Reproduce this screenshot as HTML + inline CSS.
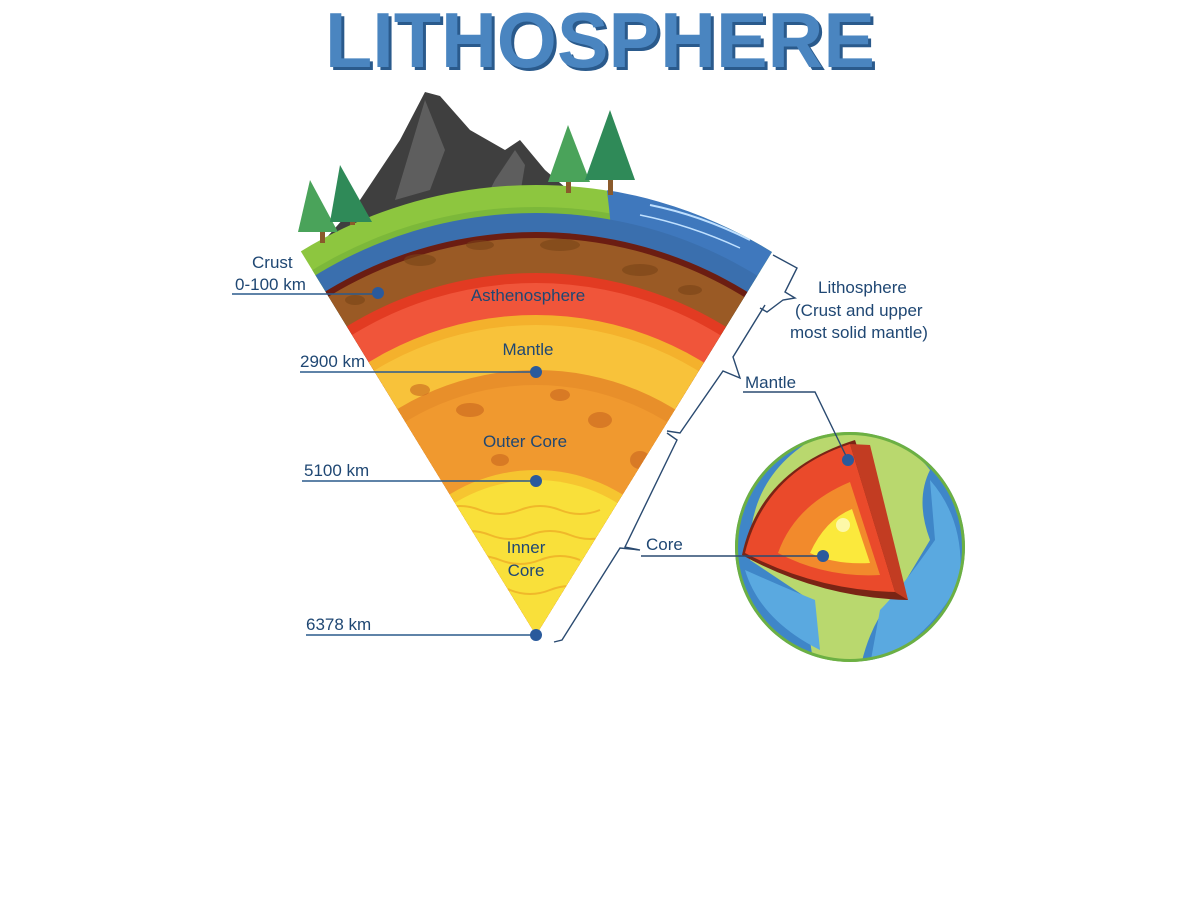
<!DOCTYPE html>
<html><head><meta charset="utf-8"><style>
html,body{margin:0;padding:0;background:#fff;width:1200px;height:907px;overflow:hidden;}
svg{display:block;}
.l{font-family:"Liberation Sans",sans-serif;font-size:17px;fill:#1f4773;}
</style></head><body>
<svg width="1200" height="907" viewBox="0 0 1200 907" xmlns="http://www.w3.org/2000/svg">
<defs>
<clipPath id="sec"><path d="M536,635 L300,250 A450,450 0 0 1 772,252 Z"/></clipPath>
<clipPath id="glob"><circle cx="850" cy="547" r="115"/></clipPath>
</defs>
<!-- title -->
<text x="603" y="70" text-anchor="middle" font-family="Liberation Sans,sans-serif" font-weight="bold" font-size="78" textLength="550" lengthAdjust="spacingAndGlyphs" fill="#2a5a8c">LITHOSPHERE</text>
<text x="600" y="67" text-anchor="middle" font-family="Liberation Sans,sans-serif" font-weight="bold" font-size="78" textLength="550" lengthAdjust="spacingAndGlyphs" fill="#4a85c0">LITHOSPHERE</text>

<!-- mountain -->
<polygon points="320,245 360,200 400,140 425,92 440,96 470,130 505,150 520,140 545,170 580,200 600,215 320,245" fill="#3f3f3f"/>
<polygon points="425,100 410,150 395,200 430,190 445,150" fill="#5e5e5e"/>
<polygon points="515,150 495,180 485,200 520,195 525,165" fill="#5e5e5e"/>

<!-- wedge -->
<g clip-path="url(#sec)">
<circle cx="536" cy="635" r="450" fill="#8dc63f"/>
<circle cx="536" cy="635" r="428" fill="#7cb83a"/>
<path d="M600,150 L800,150 L800,300 L615,300 Q612,205 600,150Z" fill="#3f78bd"/>
<path d="M650,205 Q700,215 750,240" stroke="#bfe0ff" stroke-width="2" fill="none"/>
<path d="M640,215 Q690,225 740,248" stroke="#bfe0ff" stroke-width="1.5" fill="none"/>
<circle cx="536" cy="635" r="422" fill="#3a6fae"/>
<circle cx="536" cy="635" r="403" fill="#6b1d12"/>
<circle cx="536" cy="635" r="397" fill="#9a5a25"/>
<circle cx="536" cy="635" r="362" fill="#e23b22"/>
<circle cx="536" cy="635" r="352" fill="#f0553a"/>
<circle cx="536" cy="635" r="320" fill="#f4b12c"/>
<circle cx="536" cy="635" r="310" fill="#f8c23a"/>
<circle cx="536" cy="635" r="265" fill="#e88f2a"/>
<circle cx="536" cy="635" r="250" fill="#f0992f"/>
<circle cx="536" cy="635" r="165" fill="#f6c530"/>
<circle cx="536" cy="635" r="155" fill="#f9e03a"/>
<g fill="#7a4418" opacity="0.6">
<ellipse cx="420" cy="260" rx="16" ry="6"/><ellipse cx="480" cy="245" rx="14" ry="5"/><ellipse cx="560" cy="245" rx="20" ry="6"/><ellipse cx="640" cy="270" rx="18" ry="6"/><ellipse cx="690" cy="290" rx="12" ry="5"/><ellipse cx="355" cy="300" rx="10" ry="5"/></g>
<g fill="#c9661f" opacity="0.6">
<ellipse cx="470" cy="410" rx="14" ry="7"/><ellipse cx="600" cy="420" rx="12" ry="8"/><ellipse cx="420" cy="390" rx="10" ry="6"/><ellipse cx="640" cy="460" rx="10" ry="9"/><ellipse cx="560" cy="395" rx="10" ry="6"/><ellipse cx="500" cy="460" rx="9" ry="6"/></g>
<g fill="none" stroke="#f0b82a" stroke-width="2">
<path d="M440,510 q20,-8 40,0 t40,0 t40,0 t40,0"/><path d="M450,535 q20,-8 40,0 t40,0 t40,0 t40,0"/><path d="M460,560 q20,-8 40,0 t40,0 t40,0"/><path d="M470,590 q20,-8 40,0 t40,0 t40,0"/></g>
</g>

<!-- trees -->
<g>
<rect x="320" y="225" width="5" height="18" fill="#8a5a2b"/><polygon points="310,180 298,232 338,232" fill="#4aa35a"/>
<rect x="350" y="210" width="5" height="15" fill="#8a5a2b"/><polygon points="340,165 330,222 372,222" fill="#2f8a58"/>
<rect x="566" y="175" width="5" height="18" fill="#8a5a2b"/><polygon points="568,125 548,182 590,182" fill="#4aa35a"/>
<rect x="608" y="175" width="5" height="20" fill="#8a5a2b"/><polygon points="610,110 585,180 635,180" fill="#2f8a58"/>
</g>

<!-- left labels -->
<g class="l">
<text x="252" y="268">Crust</text><text x="235" y="290">0-100 km</text>
<text x="300" y="367">2900 km</text>
<text x="304" y="476">5100 km</text>
<text x="306" y="630">6378 km</text>
</g>
<g stroke="#2a5a8c" stroke-width="1.5" fill="none">
<line x1="232" y1="294" x2="378" y2="294"/>
<line x1="300" y1="372" x2="536" y2="372"/>
<line x1="302" y1="481" x2="536" y2="481"/>
<line x1="306" y1="635" x2="536" y2="635"/>
</g>
<g fill="#2a5a9c"><circle cx="378" cy="293" r="6"/><circle cx="536" cy="372" r="6"/><circle cx="536" cy="481" r="6"/><circle cx="536" cy="635" r="6"/></g>
<g class="l" text-anchor="middle" fill="#2b4a80">
<text x="528" y="301">Asthenosphere</text>
<text x="528" y="355">Mantle</text>
<text x="525" y="447">Outer Core</text>
<text x="526" y="553">Inner</text><text x="526" y="576">Core</text>
</g>

<!-- braces -->
<g stroke="#2a4a70" stroke-width="1.4" fill="none">
<polyline points="773,255 797,268 785,292 795,298 783,300 767,312 760,308"/>
<polyline points="765,305 733,357 740,378 723,371 680,433 667,431"/>
<polyline points="667,433 677,440 625,547 640,550 620,548 562,640 554,642"/>
</g>
<g class="l">
<text x="818" y="293">Lithosphere</text>
<text x="795" y="316">(Crust and upper</text>
<text x="790" y="338">most solid mantle)</text>
<text x="745" y="388">Mantle</text>
<text x="646" y="550">Core</text>
</g>

<!-- globe -->
<g clip-path="url(#glob)">
<circle cx="850" cy="547" r="115" fill="#3f86c8"/>
<path d="M830,430 Q900,430 930,470 Q915,500 930,540 L900,590 Q870,620 860,670 L815,670 Q805,620 810,600 Q780,580 750,560 Q745,470 830,430Z" fill="#b9d86e"/>
<path d="M930,480 Q965,520 960,580 Q930,640 870,665 L880,610 Q900,590 935,540Z" fill="#5aa9e0"/>
<path d="M745,570 Q760,620 820,650 L815,600 Q790,590 745,570Z" fill="#5aa9e0"/>
<circle cx="850" cy="547" r="115" fill="none" stroke="#6cb043" stroke-width="6"/>
</g>
<path d="M742,555 Q760,470 855,440 L908,600 Q820,598 742,555Z" fill="#7a2415"/>
<path d="M745,553 Q765,472 850,444 L895,592 Q815,590 745,553Z" fill="#ea4a2b"/>
<path d="M850,444 L870,445 L908,600 L895,592Z" fill="#c23c22"/>
<path d="M778,553 Q795,505 850,482 L880,575 Q825,578 778,553Z" fill="#f28a2c"/>
<path d="M810,553 Q825,520 852,509 L870,563 Q835,565 810,553Z" fill="#fbe93c"/>
<circle cx="843" cy="525" r="7" fill="#fdf8a8"/>
<g stroke="#2a4a70" stroke-width="1.4" fill="none">
<polyline points="743,392 815,392 848,460"/>
<line x1="641" y1="556" x2="822" y2="556"/>
</g>
<g fill="#2a5a9c"><circle cx="848" cy="460" r="6"/><circle cx="823" cy="556" r="6"/></g>
</svg>
</body></html>
